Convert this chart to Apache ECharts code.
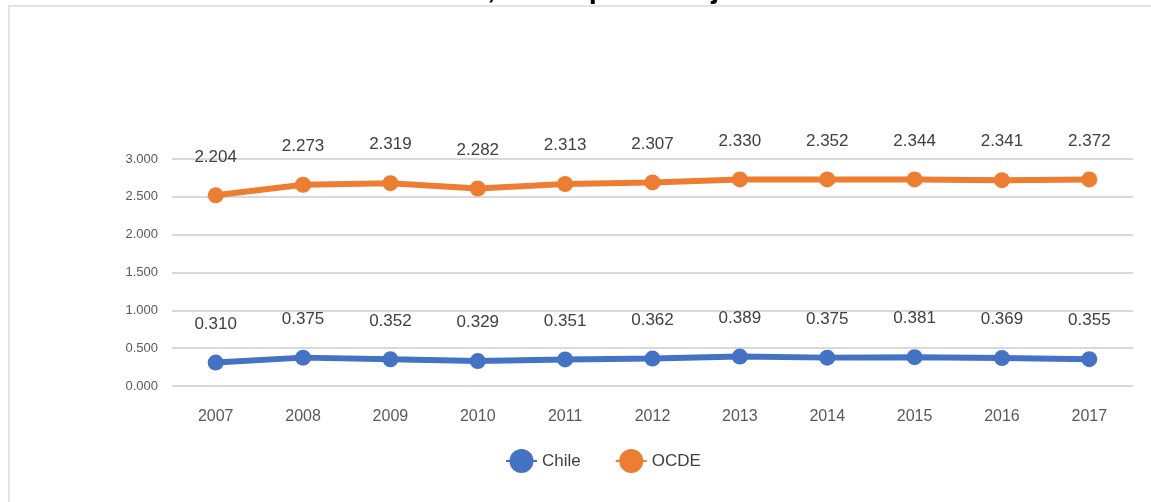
<!DOCTYPE html>
<html>
<head>
<meta charset="utf-8">
<title>Gasto en I+D</title>
<script src="https://cdn.jsdelivr.net/npm/echarts@6/dist/echarts.min.js"></script>
<style>
  html, body { margin: 0; padding: 0; background: #fff; overflow: hidden; }
  #frame {
    position: absolute; left: 8px; top: 5px; right: -10px; bottom: -10px;
    border-left: 2px solid #e4e4e4; border-top: 2px solid #e4e4e4;
  }
  #chart { position: absolute; left: 0; top: 0; width: 1151px; height: 502px; }
</style>
</head>
<body>
<div id="frame"></div>
<div id="chart"></div>
<script>
const years = ['2007', '2008', '2009', '2010', '2011', '2012', '2013', '2014', '2015', '2016', '2017']
const chileValues = [0.310, 0.375, 0.352, 0.329, 0.351, 0.362, 0.389, 0.375, 0.381, 0.369, 0.355]
// la línea OCDE está dibujada más arriba que sus etiquetas
const ocdeValues = [2.52, 2.66, 2.68, 2.61, 2.67, 2.69, 2.73, 2.73, 2.73, 2.72, 2.73]
const ocdeLabels = ['2.204', '2.273', '2.319', '2.282', '2.313', '2.307', '2.330', '2.352', '2.344', '2.341', '2.372']
const yTicks = { min: 0, max: 3, interval: 0.5 }

const font = '"Liberation Sans", Arial, sans-serif'
const blue = '#4472c4'
const orange = '#ed7d31'

const chart = echarts.init(document.getElementById('chart'))

const lineSeries = (name, data, color, fmt) => ({
  name, type: 'line', data,
  symbol: 'circle', symbolSize: 16,
  lineStyle: { width: 6, color },
  itemStyle: { color },
  label: {
    show: true, position: 'top', distance: 22,
    fontFamily: font, fontSize: 17, color: '#404040',
    formatter: fmt,
  },
  emphasis: { disabled: true },
})

chart.setOption({
  animation: false,
  backgroundColor: 'transparent',
  title: {
    text: 'Gasto en I+D, como porcentaje del PIB',
    left: 'center', top: -30,
    textStyle: { fontFamily: font, fontWeight: 'bold', fontSize: 29, color: '#000' },
  },
  grid: { left: 172, right: 18, top: 159, bottom: 116 },
  xAxis: {
    type: 'category', data: years, boundaryGap: true,
    axisLine: { show: false }, axisTick: { show: false },
    axisLabel: { margin: 23, fontFamily: font, fontSize: 16, color: '#595959' },
  },
  yAxis: {
    type: 'value', min: yTicks.min, max: yTicks.max, interval: yTicks.interval,
    axisLine: { show: false }, axisTick: { show: false },
    axisLabel: { margin: 14, fontFamily: font, fontSize: 13, color: '#595959', formatter: v => v.toFixed(3) },
    splitLine: { lineStyle: { color: '#d9d9d9', width: 2 } },
  },
  legend: {
    left: 500, top: 444,
    itemWidth: 31, itemHeight: 30, itemGap: 34,
    textStyle: { fontFamily: font, fontSize: 17, color: '#404040' },
    data: ['Chile', 'OCDE'],
  },
  series: [
    lineSeries('Chile', chileValues, blue, p => p.value.toFixed(3)),
    lineSeries('OCDE', ocdeValues, orange, p => ocdeLabels[p.dataIndex]),
  ],
})
</script>
</body>
</html>
